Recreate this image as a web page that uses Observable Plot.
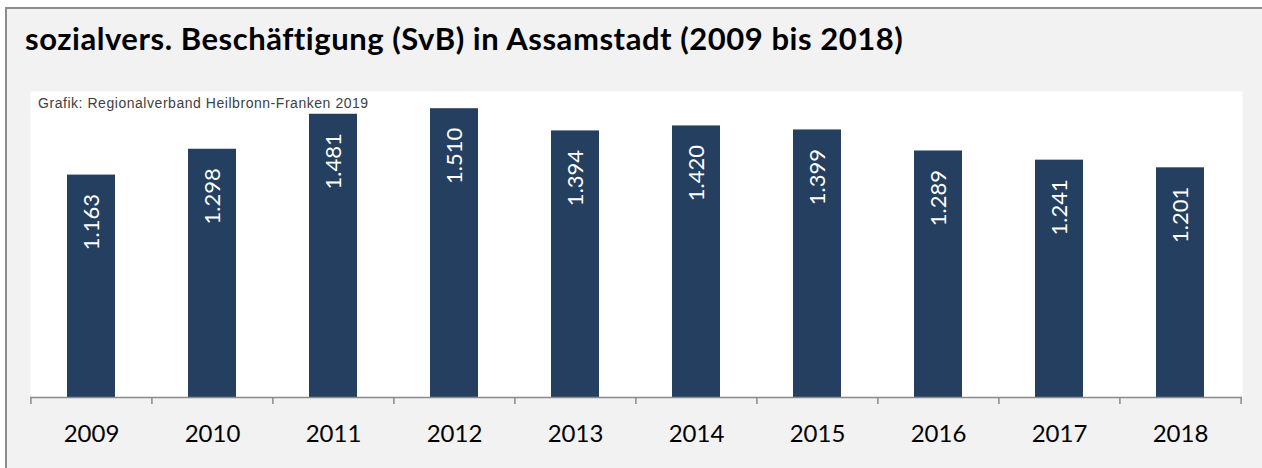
<!DOCTYPE html>
<html>
<head>
<meta charset="utf-8">
<script src="https://cdn.jsdelivr.net/npm/d3@7"></script>
<script src="https://cdn.jsdelivr.net/npm/@observablehq/plot@0.6"></script>
<style>
  body { margin: 0; background: #ffffff; }
  #wrap { position: relative; width: 1262px; height: 468px; overflow: hidden; }
  #panel { position: absolute; left: 5px; top: 7px; width: 1280px; height: 490px; border: 2px solid #8c8c8c; background: #f2f2f2; }
  #title { position: absolute; left: 25px; top: 23px; font: bold 31px Lato, sans-serif; line-height: 31px; color: #000; white-space: nowrap; }
  #source { position: absolute; left: 38px; top: 96px; font: 14px "Liberation Sans", Arial, sans-serif; line-height: 15px; color: #404040; white-space: nowrap; z-index: 2; }
  #chart { position: absolute; left: 0; top: 0; }
</style>
</head>
<body>
<div id="wrap">
  <div id="panel"></div>
  <div id="title"></div>
  <div id="chart"></div>
  <div id="source"></div>
</div>
<script>
const titleText = "sozialvers. Beschäftigung (SvB) in Assamstadt (2009 bis 2018)";
const sourceText = "Grafik: Regionalverband Heilbronn-Franken 2019";
const years = ["2009", "2010", "2011", "2012", "2013", "2014", "2015", "2016", "2017", "2018"];
const values = [1163, 1298, 1481, 1510, 1394, 1420, 1399, 1289, 1241, 1201];

function fitWidth(el, text, target) {
  el.textContent = text;
  el.style.display = "inline-block";
  const w = el.getBoundingClientRect().width;
  const ls = (target - w) / Math.max(1, text.length - 1);
  el.style.letterSpacing = ls.toFixed(2) + "px";
}
fitWidth(document.getElementById("title"), titleText, 877);
fitWidth(document.getElementById("source"), sourceText, 330);

const de = d3.formatLocale({decimal: ",", thousands: ".", grouping: [3], currency: ["", " €"]});
const fmt = de.format(",");

const data = years.map((year, i) => ({year, value: values[i]}));
const lastYear = [years[years.length - 1]];

const W = 1262, H = 468;
const mTop = 91, mBottom = 71, mLeft = 30, mRight = 20;
const frameH = H - mTop - mBottom;
const step = (W - mLeft - mRight) / years.length;

const chart = Plot.plot({
  width: W,
  height: H,
  marginTop: mTop,
  marginBottom: mBottom,
  marginLeft: mLeft,
  marginRight: mRight,
  style: {background: "transparent", overflow: "visible"},
  x: {domain: years, paddingInner: 0.6, paddingOuter: 0.3, label: null},
  y: {domain: [0, 1600], axis: null},
  marks: [
    Plot.frame({fill: "white", stroke: "none"}),
    Plot.barY(data, {x: "year", y: "value", fill: "#243f60"}),
    Plot.text(data, {
      x: "year", y: "value", text: d => fmt(d.value),
      rotate: -90, textAnchor: "end", lineAnchor: "middle", dy: 19,
      fill: "white", fontSize: 22, fontFamily: "Lato, sans-serif"
    }),
    Plot.ruleY([0], {stroke: "#8a8a8a", strokeWidth: 1.5}),
    Plot.ruleX(years, {x: d => d, dx: -step / 2, insetTop: frameH, insetBottom: -7, stroke: "#8a8a8a", strokeWidth: 1.5}),
    Plot.ruleX(lastYear, {x: d => d, dx: step / 2, insetTop: frameH, insetBottom: -7, stroke: "#8a8a8a", strokeWidth: 1.5}),
    Plot.axisX({tickSize: 0, tickPadding: 27, fontSize: 24, fontFamily: "Lato, sans-serif", fill: "#000", label: null})
  ]
});
document.getElementById("chart").appendChild(chart);
</script>
</body>
</html>
